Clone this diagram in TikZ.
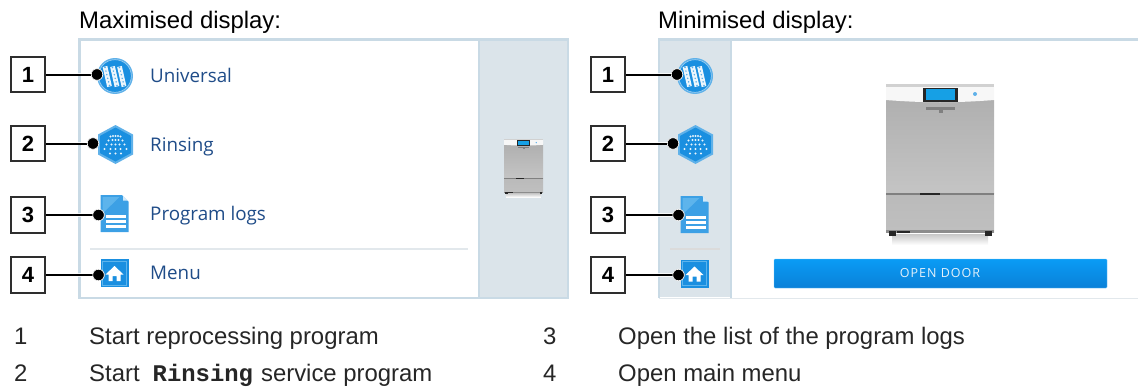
\documentclass[tikz,border=0pt]{standalone}
\usepackage{fontspec}
\setmainfont{Liberation Sans}
\newfontfamily\uifont{Open Sans}
\setmonofont{Liberation Mono}
\usetikzlibrary{calc}
\definecolor{edge}{HTML}{C9DAE5}
\definecolor{sidebar}{HTML}{DBE4EA}
\definecolor{sep}{HTML}{E2E8EC}
\definecolor{iconblue}{HTML}{1A8FE0}
\definecolor{iconlight}{HTML}{5DB4EC}
\definecolor{uitext}{HTML}{1F4C88}
\definecolor{btntop}{HTML}{0A9CF5}
\definecolor{btnbot}{HTML}{0A80D8}
\tikzset{
  x=1pt,y=-1pt,
  keybox/.style={draw=black!82,line width=1.8pt,fill=white,minimum width=34.5pt,minimum height=35.5pt,inner sep=0pt,font=\fontsize{22}{24}\selectfont\bfseries},
  keydot/.style={circle,fill=black,draw=white,line width=.6pt,minimum size=11.5pt,inner sep=0pt},
  halo/.style={draw=white,line width=3.4pt,opacity=.8},
  leader/.style={draw=black,line width=2pt},
  head/.style={anchor=base west,inner sep=0pt,font=\fontsize{23.9}{26}\selectfont},
  legend/.style={anchor=base west,inner sep=0pt,font=\fontsize{23.9}{26}\selectfont,text=black!85},
  uilabel/.style={anchor=base west,inner sep=0pt,text=uitext,font=\uifont\fontsize{18.8}{22}\selectfont},
}
\newcommand{\iconrack}[2]{\begin{scope}[shift={(#1,#2)}]
  \fill[iconblue!70!white] (0,0) circle (18);
  \draw[white!60!iconblue,line width=.5pt] (0,0) circle (16.3);
  \fill[iconblue] (0,0) circle (15.8);
  \foreach \a in {-8.5,-1,6}{
    \draw[white!92!iconblue,line width=4.8pt] (\a-1.5,-9.5) -- (\a+3,10.5);
    \foreach \t in {0,.2,.4,.6,.8,1}
      \fill[iconblue!75!white] ($(\a-1.5,-8.5)!\t!(\a+3,9.5)$) circle (.8);
  }
\end{scope}}
\newcommand{\iconhex}[2]{\begin{scope}[shift={(#1,#2)}]
  \fill[iconblue!70!white] (0,-19.5) -- (17.5,-10) -- (17.5,10) -- (0,19.5) -- (-17.5,10) -- (-17.5,-10) -- cycle;
  \fill[iconblue] (0,-17) -- (15.3,-8.7) -- (15.3,8.7) -- (0,17) -- (-15.3,8.7) -- (-15.3,-8.7) -- cycle;
  \foreach \p in {(-5,-8),(-2.5,-8.5),(0,-8.5),(2.5,-8.5),(5,-8),(-7,-4),(-3,-4.5),(0,-4.5),(3,-4.5),(7,-4),(-9,0),(-4,0),(0,0),(4,0),(9,0),(-11,4.5),(-5,4.5),(0,4.5),(5,4.5),(11,4.5),(-5.5,9),(0,9),(5.5,9)}
    \fill[white!90!iconblue] \p circle (1.1);
\end{scope}}
\newcommand{\icondoc}[2]{\begin{scope}[shift={(#1,#2)}]
  \fill[iconblue!85!white] (-14,-18.5) -- (7.5,-18.5) -- (14,-12) -- (14,18.5) -- (-14,18.5) -- cycle;
  \fill[iconlight] (-12,-16.5) -- (5,-16.5) -- (-12,0) -- cycle;
  \fill[white!80!iconblue] (8.5,-18) -- (13.5,-13) -- (8.5,-13) -- cycle;
  \foreach \y in {3,8,13}
    \fill[white] (-9,\y-1.3) rectangle (11,\y+1.3);
\end{scope}}
\newcommand{\iconhome}[2]{\begin{scope}[shift={(#1,#2)}]
  \fill[iconblue] (-14,-14) rectangle (14,14);
  \draw[iconlight,line width=.8pt] (-12,-12) rectangle (12,12);
  \fill[white] (0,-7) -- (9,1.5) -- (6,1.5) -- (6,8) -- (2,8) -- (2,3) -- (-2,3) -- (-2,8) -- (-6,8) -- (-6,1.5) -- (-9,1.5) -- cycle;
\end{scope}}
\newcommand{\machine}[3]{\begin{scope}[shift={(#1,#2)},x=#3pt,y=-#3pt]
  \shade[top color=black!22,bottom color=white] (6,150) rectangle (102,161);
  \fill[black!18] (0,0) rectangle (108,4);
  \shade[top color=black!31,bottom color=black!23] (0,16) rectangle (108,109);
  \shade[top color=black!27,bottom color=black!25] (0,109) rectangle (108,148);
  \fill[white!97!black] (0,3) -- (108,3) -- (108,16) .. controls (70,19) and (38,19) .. (0,16) -- cycle;
  \fill[black!85] (37,3.5) rectangle (72,18);
  \fill[iconblue!85!cyan] (40,5) rectangle (69,16);
  \fill[black!50] (40,23) rectangle (69,26);
  \fill[black!50] (53,26) rectangle (57,29);
  \fill[iconblue!70] (89,10) circle (2);
  \fill[black!50] (0,109) rectangle (108,110.5);
  \fill[black!85] (34,108.5) rectangle (54,111);
  \fill[black!45] (0,146) rectangle (108,148.5);
  \fill[black!85] (3,147) rectangle (10,151.5);
  \fill[black!85] (99,147) rectangle (106,151.5);
  \fill[black!85] (11,147) rectangle (24,149);
\end{scope}}
\begin{document}
\begin{tikzpicture}
\useasboundingbox (0,0) rectangle (1138,388);
\fill[sidebar] (479,39) rectangle (568,297);
\draw[edge,line width=2.2pt] (79.5,298) -- (79.5,39.5) -- (568,39.5) -- (568,298) -- cycle;
\draw[edge,line width=2pt] (479,39) -- (479,298);
\draw[sep,line width=1.4pt] (90,249) -- (468,249);
\fill[sidebar] (659,39) rectangle (731,297);
\draw[edge,line width=2.2pt] (1138,39.5) -- (659,39.5) -- (659,298);
\draw[edge,line width=2pt] (731,39) -- (731,298);
\draw[sep,line width=1.2pt] (659,298.5) -- (1138,298.5);
\draw[black!14,line width=1.2pt] (670,249) -- (720,249);
\machine{504}{139}{.362}
\machine{886}{84}{1}
\shade[top color=btntop,bottom color=btnbot,draw=btntop!60!white,line width=.4pt,rounded corners=1pt] (774,259) rectangle (1107,288);
\node[inner sep=0pt,text=white!88!iconblue,font=\uifont\fontsize{12.5}{14}\selectfont\addfontfeature{LetterSpace=8}] (door) at (940,273.5) {OPEN DOOR};
\iconrack{115}{76}\iconhex{115.5}{144.5}\icondoc{114.5}{213.5}\iconhome{114.5}{273}
\iconrack{695}{76}\iconhex{695.5}{144.5}\icondoc{694.5}{214.5}\iconhome{694.5}{273.5}
\node[uilabel] (u1) at (150,82) {Universal};
\node[uilabel] (u2) at (150,151) {Rinsing};
\node[uilabel] (u3) at (150,220) {Program logs};
\node[uilabel] (u4) at (150,279.5) {Menu};
\node[head] (h1) at (79,28.5) {Maximised display:};
\node[head] (h2) at (658,28.5) {Minimised display:};
\node[keybox] (a1) at (28,74.5) {1};
\node[keybox] (a2) at (28,143.5) {2};
\node[keybox] (a3) at (28,215) {3};
\node[keybox] (a4) at (28,275) {4};
\node[keydot] (p1) at (97,74.5) {};
\node[keydot] (p2) at (93,143.5) {};
\node[keydot] (p3) at (98.5,215) {};
\node[keydot] (p4) at (98.5,275) {};
\node[keybox] (b1) at (608,74.5) {1};
\node[keybox] (b2) at (608,143.5) {2};
\node[keybox] (b3) at (608,215) {3};
\node[keybox] (b4) at (608,275) {4};
\node[keydot] (q1) at (677,74.5) {};
\node[keydot] (q2) at (673,143.5) {};
\node[keydot] (q3) at (678.5,215) {};
\node[keydot] (q4) at (678.5,275) {};
\foreach \i in {1,2,3,4}{
  \draw[halo] (a\i) ++(19,0) -- (p\i);
  \draw[halo] (b\i) ++(19,0) -- (q\i);
  \draw[leader] (a\i.east) -- (p\i.center);
  \draw[leader] (b\i.east) -- (q\i.center);
  \node[keydot] at (p\i) {};
  \node[keydot] at (q\i) {};
}
\node[legend] (l1) at (14,344) {1};
\node[legend] (l2) at (14,381) {2};
\node[legend] (l3) at (543,344) {3};
\node[legend] (l4) at (543,381) {4};
\node[legend] (t1) at (89,344) {Start reprocessing program};
\node[legend] (t2) at (89,381) {Start\hspace{13pt}{\ttfamily\bfseries Rinsing}\hspace{8pt}service program};
\node[legend] (t3) at (618,344) {Open the list of the program logs};
\node[legend] (t4) at (618,381) {Open main menu};
\end{tikzpicture}
\end{document}
